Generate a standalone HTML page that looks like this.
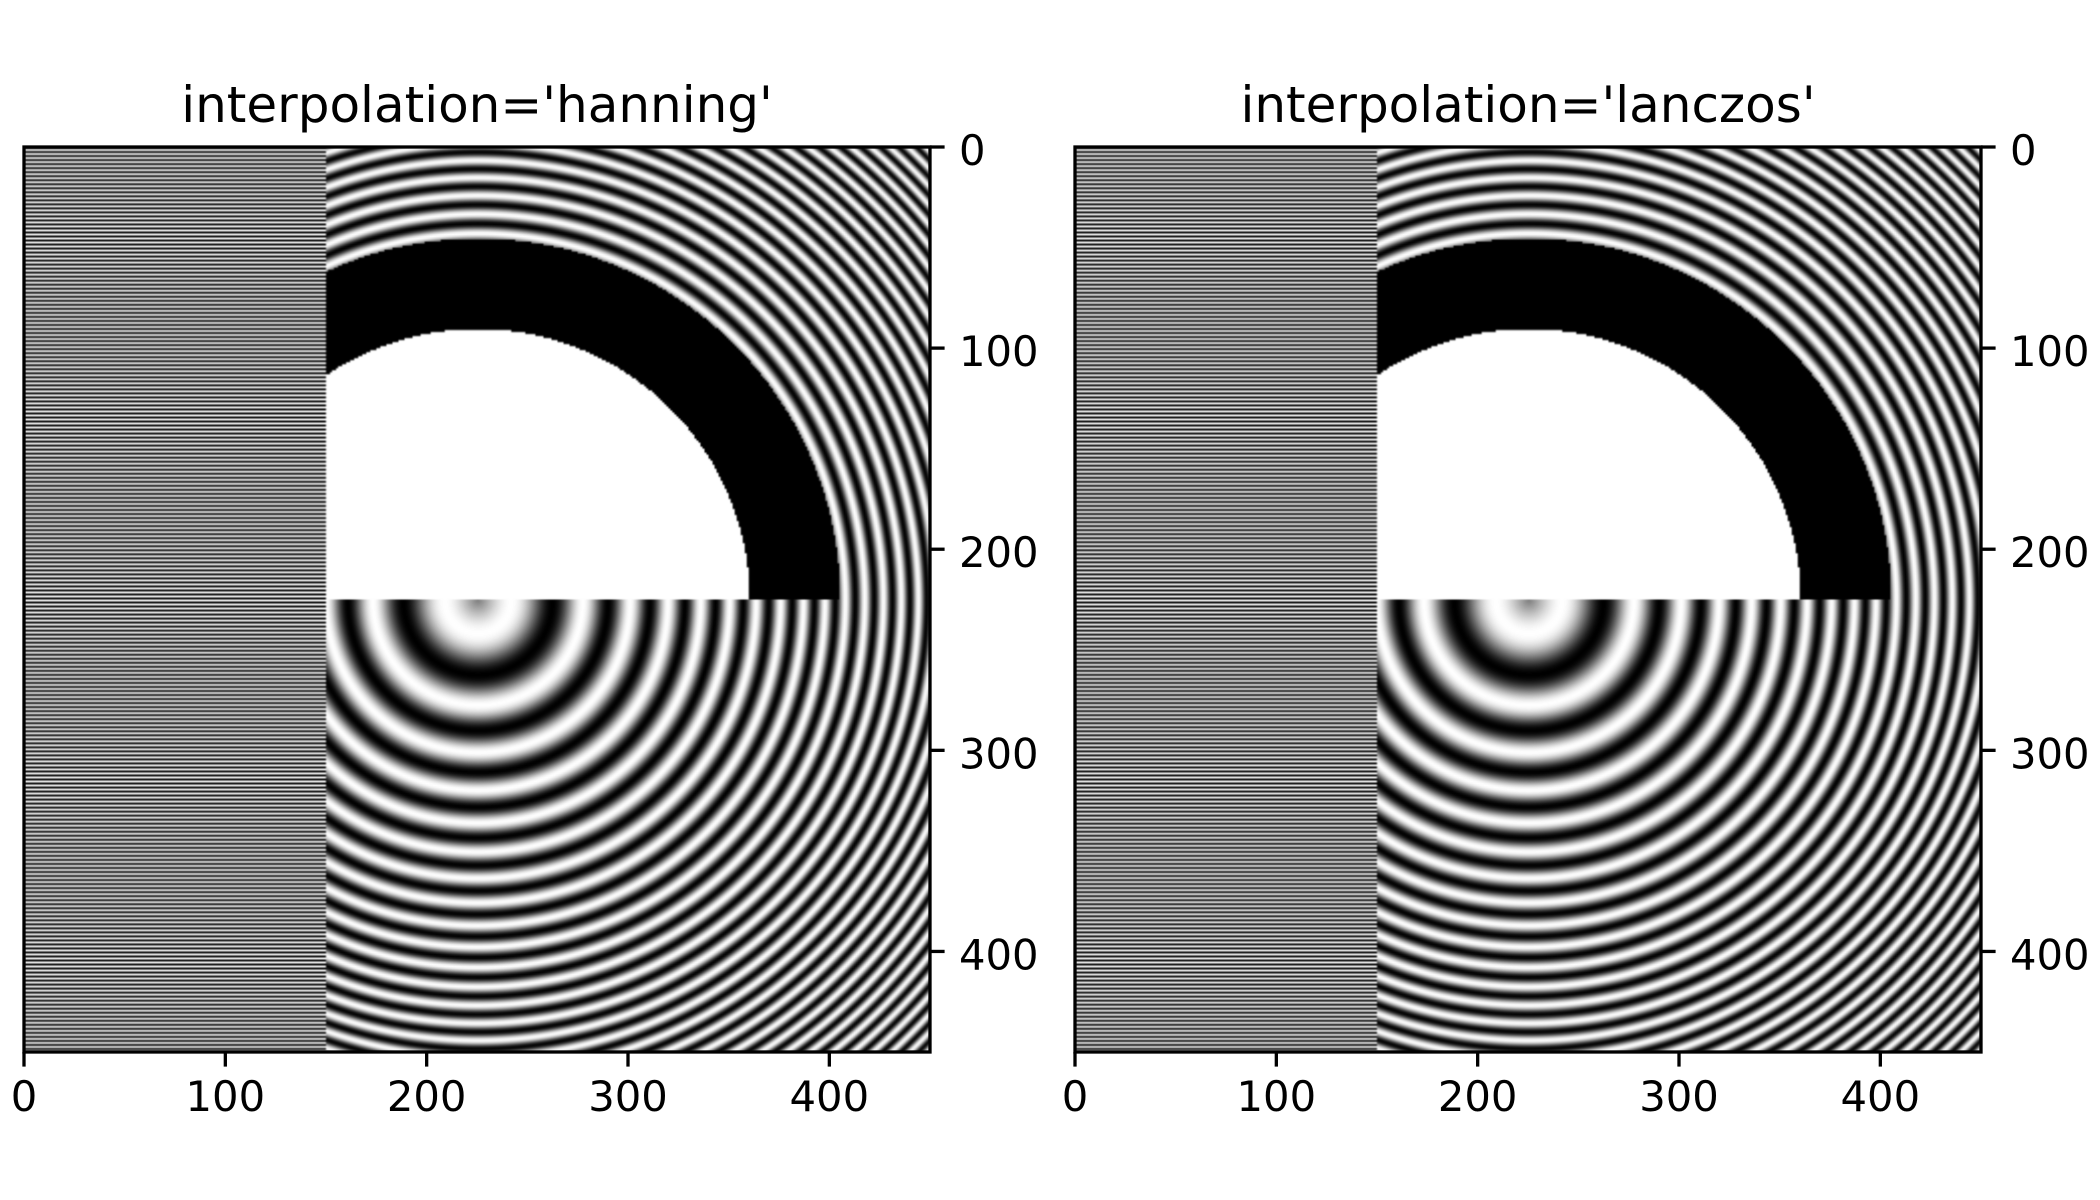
<!DOCTYPE html>
<html><head><meta charset="utf-8">
<style>
html,body{margin:0;padding:0;background:#fff;}
#root{position:relative;width:2100px;height:1200px;overflow:hidden;font-family:"DejaVu Sans","Liberation Sans",sans-serif;}
canvas{position:absolute;}
svg{position:absolute;left:0;top:0;}
</style></head>
<body>
<div id="root">
<canvas id="c1" width="906" height="905" style="left:24px;top:147px"></canvas>
<canvas id="c2" width="906" height="905" style="left:1075px;top:147px"></canvas>
<svg id="s" width="2100" height="1200"></svg>
</div>
<script>
// data parameters
const N = 450;
const f0 = 5;
const kChirp = 100;
const innerR = 0.3;
const outerR = 0.4;
const xTicks = [0, 100, 200, 300, 400];
const yTicks = [0, 100, 200, 300, 400];
const titles = ["interpolation='hanning'", "interpolation='lanczos'"];

const data = new Float32Array(N*N);
for (let i=0;i<N;i++){
  for (let j=0;j<N;j++){
    const X = j/N-0.5, Y = i/N-0.5;
    const R = Math.sqrt(X*X+Y*Y);
    let v;
    if (j < Math.floor(N/3)) {
      v = (i%2===0) ? -1 : 1;
    } else {
      v = Math.sin(Math.PI*2*(f0*R + kChirp*R*R/2));
      if (i < Math.floor(N/2)) {
        if (R < innerR) v = 1;
        else if (R < outerR) v = -1;
      }
    }
    data[i*N+j] = v;
  }
}
function render(id){
  const cv = document.getElementById(id);
  const ctx = cv.getContext('2d');
  const W = cv.width, H = cv.height;
  const img = ctx.createImageData(W,H);
  for (let py=0;py<H;py++){
    let fy = (py+0.5)*N/H - 0.5; if (fy<0) fy=0; if (fy>N-1) fy=N-1;
    const y0 = Math.floor(fy), y1 = Math.min(y0+1,N-1), ty = fy-y0;
    for (let px=0;px<W;px++){
      let fx = (px+0.5)*N/W - 0.5; if (fx<0) fx=0; if (fx>N-1) fx=N-1;
      const x0 = Math.floor(fx), x1 = Math.min(x0+1,N-1), tx = fx-x0;
      const v = (data[y0*N+x0]*(1-tx)+data[y0*N+x1]*tx)*(1-ty) + (data[y1*N+x0]*(1-tx)+data[y1*N+x1]*tx)*ty;
      const g = Math.max(0,Math.min(255,Math.round((v+1)/2*255)));
      const k = (py*W+px)*4;
      img.data[k]=g; img.data[k+1]=g; img.data[k+2]=g; img.data[k+3]=255;
    }
  }
  ctx.putImageData(img,0,0);
}
render('c1'); render('c2');

const svg = document.getElementById('s');
const NS = 'http://www.w3.org/2000/svg';
const axesLeft = [24, 1075];
const top0 = 147, size = 906, sizeY = 905;
function mk(tag, attrs){ const e=document.createElementNS(NS,tag); for(const k in attrs) e.setAttribute(k,attrs[k]); svg.appendChild(e); return e; }
axesLeft.forEach((L, idx) => {
  const xs = v => L + v/N*size;
  const ys = v => top0 + v/N*sizeY;
  const fr = mk('rect',{x:L,y:top0,width:size,height:sizeY,fill:'none',stroke:'#000','stroke-width':3.3});
  
  
  const t = mk('text',{x:L+size/2,y:122,'font-size':50,'text-anchor':'middle',fill:'#000'});
  t.textContent = titles[idx];
  
  
  xTicks.forEach(v => {
    const x = xs(v);
    const tk = mk('line',{x1:x,y1:top0+sizeY,x2:x,y2:top0+sizeY+14.6,stroke:'#000','stroke-width':3.3});
    
    
    const tl = mk('text',{x:x,y:top0+sizeY+14.6+14.6+30,'font-size':41.7,'text-anchor':'middle',fill:'#000'});
    tl.textContent = v;
    
    
  });
  yTicks.forEach(v => {
    const y = ys(v);
    const tk = mk('line',{x1:L+size,y1:y,x2:L+size+14.6,y2:y,stroke:'#000','stroke-width':3.3});
    
    
    const tl = mk('text',{x:L+size+29,y:y+18,'font-size':41.7,'text-anchor':'start',fill:'#000'});
    tl.textContent = v;
    
    
  });
});
</script>
</body></html>
